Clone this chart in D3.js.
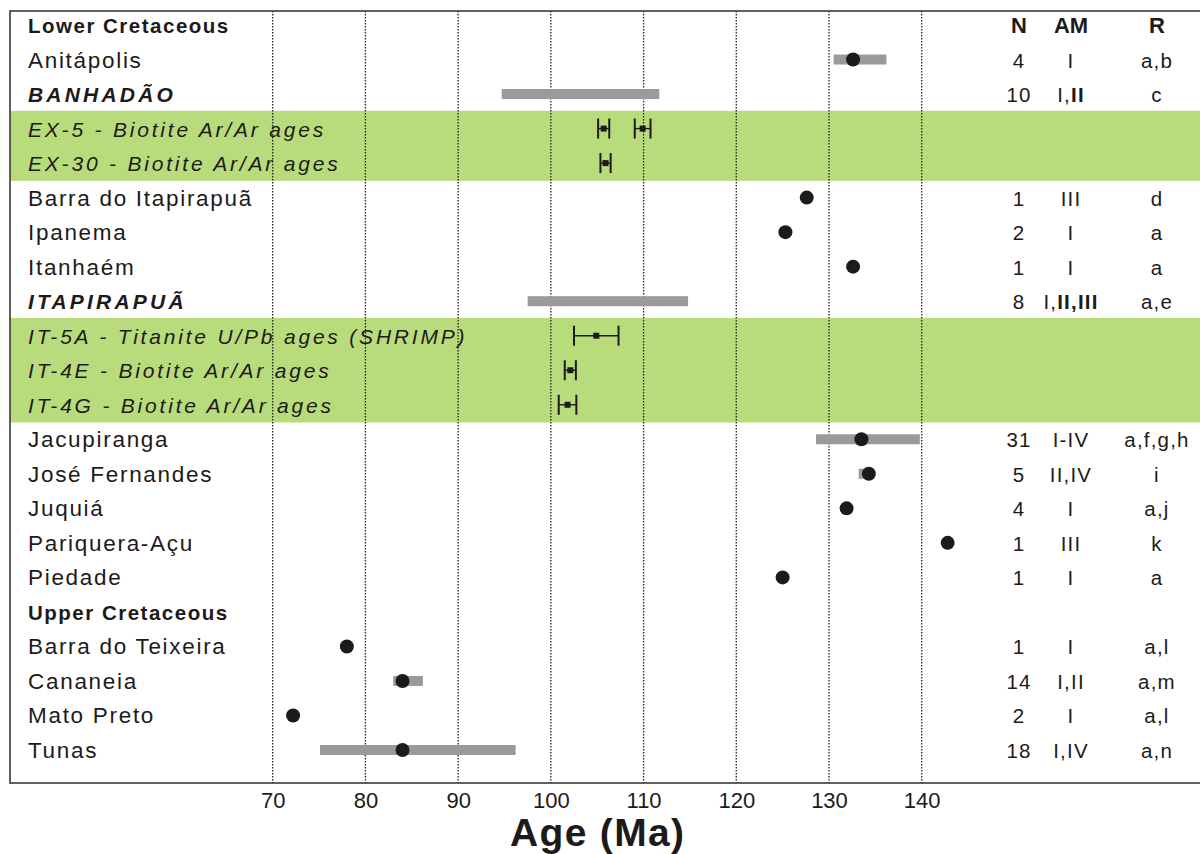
<!doctype html>
<html>
<head>
<meta charset="UTF-8">
<title>Age (Ma)</title>
<script src="https://d3js.org/d3.v7.min.js"></script>
<style>
  body { margin: 0; background: #fff; }
  text { font-family: "Liberation Sans", Arial, sans-serif; fill: #1e1a1a; }
</style>
</head>
<body>
<svg id="chart" width="1200" height="854"></svg>
<script>
// rows top to bottom
var rows = ["Lower Cretaceous", "Anitápolis", "BANHADÃO",
  "EX-5 - Biotite Ar/Ar ages", "EX-30 - Biotite Ar/Ar ages",
  "Barra do Itapirapuã", "Ipanema", "Itanhaém", "ITAPIRAPUÃ",
  "IT-5A - Titanite U/Pb ages (SHRIMP)", "IT-4E - Biotite Ar/Ar ages", "IT-4G - Biotite Ar/Ar ages",
  "Jacupiranga", "José Fernandes", "Juquiá", "Pariquera-Açu", "Piedade",
  "Upper Cretaceous", "Barra do Teixeira", "Cananeia", "Mato Preto", "Tunas"];
// h = group header, p = plain, c = complex, s = sample
var rowKind = ["h", "p", "c", "s", "s", "p", "p", "p", "c", "s", "s", "s",
  "p", "p", "p", "p", "p", "h", "p", "p", "p", "p"];

// gray age ranges
var rangeRows = ["Anitápolis", "BANHADÃO", "ITAPIRAPUÃ", "Jacupiranga", "José Fernandes", "Cananeia", "Tunas"];
var rangeMin = [130.5, 94.7, 97.5, 128.6, 133.2, 83.0, 75.1];
var rangeMax = [136.2, 111.7, 114.8, 139.8, 134.3, 86.2, 96.2];

// black dots
var dotRows = ["Anitápolis", "Barra do Itapirapuã", "Ipanema", "Itanhaém", "Jacupiranga", "José Fernandes",
  "Juquiá", "Pariquera-Açu", "Piedade", "Barra do Teixeira", "Cananeia", "Mato Preto", "Tunas"];
var dotAge = [132.6, 127.6, 125.3, 132.6, 133.5, 134.3, 131.9, 142.8, 125.0, 78.0, 84.0, 72.2, 84.0];

// sample ages with error
var errRows = ["EX-5 - Biotite Ar/Ar ages", "EX-5 - Biotite Ar/Ar ages", "EX-30 - Biotite Ar/Ar ages",
  "IT-5A - Titanite U/Pb ages (SHRIMP)", "IT-4E - Biotite Ar/Ar ages", "IT-4G - Biotite Ar/Ar ages"];
var errAge = [105.7, 109.9, 105.9, 104.9, 102.1, 101.8];
var errSigma = [0.6, 0.85, 0.55, 2.4, 0.6, 0.95];

// green highlighted blocks (first row, last row)
var bandFrom = ["EX-5 - Biotite Ar/Ar ages", "IT-5A - Titanite U/Pb ages (SHRIMP)"];
var bandTo = ["EX-30 - Biotite Ar/Ar ages", "IT-4G - Biotite Ar/Ar ages"];

// table columns ([..] = bold part)
var colHead = ["N", "AM", "R"];
var colN = ["", "4", "10", "", "", "1", "2", "1", "8", "", "", "", "31", "5", "4", "1", "1", "", "1", "14", "2", "18"];
var colAM = ["", "I", "I,[II]", "", "", "III", "I", "I", "I,[II,III]", "", "", "", "I-IV", "II,IV", "I", "III", "I", "",
  "I", "I,II", "I", "I,IV"];
var colR = ["", "a,b", "c", "", "", "d", "a", "a", "a,e", "", "", "", "a,f,g,h", "i", "a,j", "k", "a", "",
  "a,l", "a,m", "a,l", "a,n"];

var ticks = [70, 80, 90, 100, 110, 120, 130, 140];

var svg = d3.select("#chart");
var frameL = 10, frameT = 11, frameB = 783;

var x = d3.scaleLinear().domain([70, 140]).range([272.7, 921.7]);
var y = d3.scalePoint().domain(rows).range([25, 750]);
var step = y.step();

// green bands
svg.selectAll("rect.band").data(bandFrom).enter().append("rect")
  .attr("class", "band")
  .attr("x", frameL)
  .attr("y", function(d) { return y(d) - step / 2 - 0.5; })
  .attr("width", 1200 - frameL)
  .attr("height", function(d, i) { return y(bandTo[i]) - y(d) + step + 1; })
  .attr("fill", "#b8dc7c");

// dotted grid
svg.selectAll("line.grid").data(ticks).enter().append("line")
  .attr("x1", function(d) { return x(d); })
  .attr("x2", function(d) { return x(d); })
  .attr("y1", frameT)
  .attr("y2", frameB)
  .attr("stroke", "#222")
  .attr("stroke-width", 1.3)
  .attr("stroke-dasharray", "1.6,1.4");

// frame
svg.append("rect")
  .attr("x", frameL).attr("y", frameT)
  .attr("width", 1220).attr("height", frameB - frameT)
  .attr("fill", "none").attr("stroke", "#3a3a3a").attr("stroke-width", 1.6);

// axis
var axis = svg.append("g")
  .attr("transform", "translate(0," + frameB + ")")
  .call(d3.axisBottom(x).tickValues(ticks).tickSize(0).tickPadding(9));
axis.select(".domain").remove();
axis.selectAll("text")
  .style("font-family", "'Liberation Sans', Arial, sans-serif")
  .attr("font-size", 22).attr("fill", "#1e1a1a");

svg.append("text")
  .attr("x", 597).attr("y", 846)
  .attr("text-anchor", "middle")
  .attr("font-size", 39).attr("font-weight", "bold")
  .attr("textLength", 174)
  .text("Age (Ma)");

// gray ranges
svg.selectAll("rect.range").data(rangeRows).enter().append("rect")
  .attr("x", function(d, i) { return x(rangeMin[i]); })
  .attr("y", function(d) { return y(d) - 5; })
  .attr("width", function(d, i) { return x(rangeMax[i]) - x(rangeMin[i]); })
  .attr("height", 10)
  .attr("fill", "#9a9a9a");

// dots
svg.selectAll("circle.dot").data(dotRows).enter().append("circle")
  .attr("cx", function(d, i) { return x(dotAge[i]); })
  .attr("cy", function(d) { return y(d); })
  .attr("r", 7)
  .attr("fill", "#1e1a1a");

// error bars
var eb = svg.selectAll("g.err").data(errRows).enter().append("g");
eb.append("line")
  .attr("x1", function(d, i) { return x(errAge[i] - errSigma[i]); })
  .attr("x2", function(d, i) { return x(errAge[i] + errSigma[i]); })
  .attr("y1", function(d) { return y(d); })
  .attr("y2", function(d) { return y(d); })
  .attr("stroke", "#1e1a1a").attr("stroke-width", 1.4);
[-1, 1].forEach(function(s) {
  eb.append("line")
    .attr("x1", function(d, i) { return x(errAge[i] + s * errSigma[i]); })
    .attr("x2", function(d, i) { return x(errAge[i] + s * errSigma[i]); })
    .attr("y1", function(d) { return y(d) - 10; })
    .attr("y2", function(d) { return y(d) + 10; })
    .attr("stroke", "#1e1a1a").attr("stroke-width", 2);
});
eb.append("rect")
  .attr("x", function(d, i) { return x(errAge[i]) - 3; })
  .attr("y", function(d) { return y(d) - 3; })
  .attr("width", 6).attr("height", 6)
  .attr("fill", "#1e1a1a");

// row labels
svg.selectAll("text.row").data(rows).enter().append("text")
  .attr("x", 28)
  .attr("y", function(d) { return y(d) + 8; })
  .attr("font-size", function(d, i) {
    var k = rowKind[i];
    return k == "h" ? 20.5 : (k == "p" ? 22.5 : 21);
  })
  .attr("font-weight", function(d, i) { return rowKind[i] == "h" || rowKind[i] == "c" ? "bold" : "normal"; })
  .attr("font-style", function(d, i) { return rowKind[i] == "c" || rowKind[i] == "s" ? "italic" : "normal"; })
  .attr("letter-spacing", function(d, i) {
    var k = rowKind[i];
    return k == "h" ? 1.5 : (k == "p" ? 1.7 : (k == "c" ? 3.2 : 2.8));
  })
  .text(function(d) { return d; });

// table
var colX = [1019, 1071, 1157];
svg.selectAll("text.head").data(colHead).enter().append("text")
  .attr("x", function(d, i) { return colX[i]; })
  .attr("y", y(rows[0]) + 8)
  .attr("text-anchor", "middle")
  .attr("font-size", 22).attr("font-weight", "bold")
  .text(function(d) { return d; });

function cell(list, cx) {
  list.forEach(function(v, i) {
    if (!v) return;
    var t = svg.append("text")
      .attr("x", cx).attr("y", y(rows[i]) + 8)
      .attr("text-anchor", "middle")
      .attr("font-size", 20.5)
      .attr("letter-spacing", 1.2);
    v.split(/(\[[^\]]*\])/).forEach(function(part) {
      if (!part) return;
      var bold = part.charAt(0) == "[";
      t.append("tspan")
        .attr("font-weight", bold ? "bold" : "normal")
        .text(bold ? part.slice(1, -1) : part);
    });
  });
}
cell(colN, colX[0]);
cell(colAM, colX[1]);
cell(colR, colX[2]);
</script>
</body>
</html>
